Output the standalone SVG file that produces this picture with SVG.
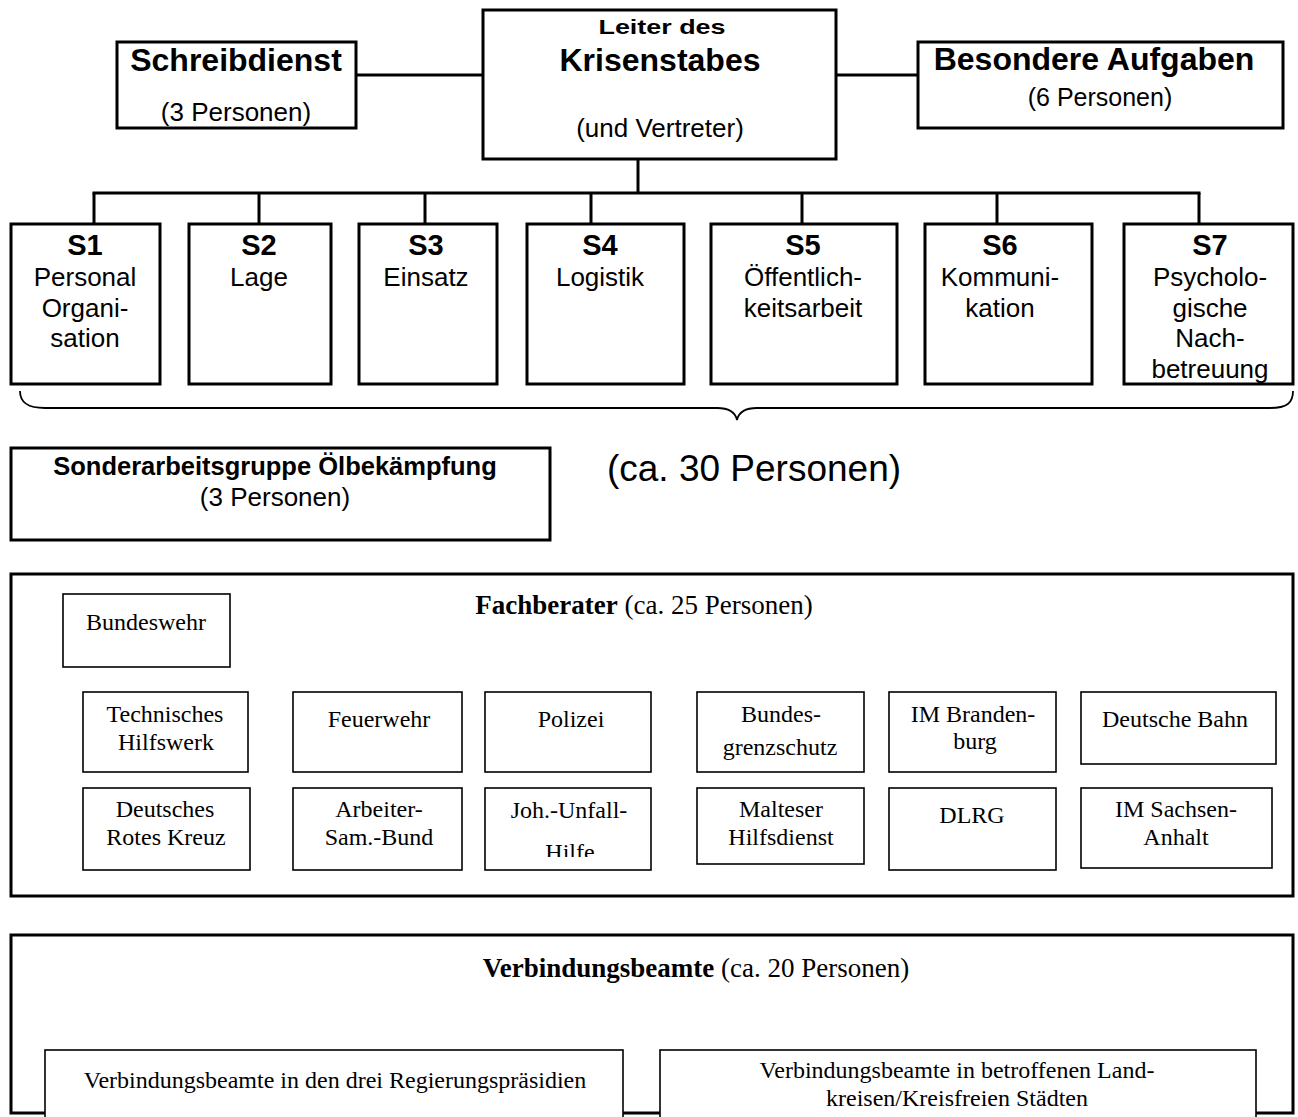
<svg xmlns="http://www.w3.org/2000/svg" width="1298" height="1117" viewBox="0 0 1298 1117">
<defs>
<style>
.box{fill:#fff;stroke:#000;stroke-width:3}
.sbox{fill:#fff;stroke:#000;stroke-width:1.6}
.conn{fill:none;stroke:#000;stroke-width:3}
.brace{fill:none;stroke:#000;stroke-width:1.8}
text{text-anchor:middle;fill:#000}
.sans{font-family:"Liberation Sans",Arial,sans-serif}
.serif{font-family:"Liberation Serif","Times New Roman",serif}
.b{font-weight:bold}
.t32{font-size:32px}
.t26{font-size:26px}
.t29{font-size:29px}
.s24{font-size:24px}
.s27{font-size:27px}
</style>
<clipPath id="clipJoh"><rect x="485" y="788" width="166" height="69"/></clipPath>
</defs>
<rect width="1298" height="1117" fill="#fff"/>

<g id="connectors">
<line class="conn" x1="356" y1="75" x2="483" y2="75"/>
<line class="conn" x1="836" y1="75" x2="918" y2="75"/>
<line class="conn" x1="638" y1="159" x2="638" y2="193"/>
<line class="conn" x1="92.5" y1="193" x2="1200.5" y2="193"/>
<line class="conn" x1="94" y1="193" x2="94" y2="224"/>
<line class="conn" x1="259" y1="193" x2="259" y2="224"/>
<line class="conn" x1="425" y1="193" x2="425" y2="224"/>
<line class="conn" x1="591" y1="193" x2="591" y2="224"/>
<line class="conn" x1="802" y1="193" x2="802" y2="224"/>
<line class="conn" x1="997" y1="193" x2="997" y2="224"/>
<line class="conn" x1="1199" y1="193" x2="1199" y2="224"/>
</g>

<g id="schreibdienst">
<rect class="box" x="117" y="42" width="239" height="86"/>
<text class="sans b t32" x="236" y="71">Schreibdienst</text>
<text class="sans t26" x="236" y="121">(3 Personen)</text>
</g>

<g id="leiter">
<rect class="box" x="483" y="10" width="353" height="149"/>
<text class="sans b" font-size="21" x="662" y="34" textLength="127" lengthAdjust="spacingAndGlyphs">Leiter des</text>
<text class="sans b t32" x="660" y="71">Krisenstabes</text>
<text class="sans t26" x="660" y="137">(und Vertreter)</text>
</g>

<g id="besondere">
<rect class="box" x="918" y="42" width="365" height="86"/>
<text class="sans b t32" x="1094" y="70">Besondere Aufgaben</text>
<text class="sans" font-size="25" x="1100" y="106">(6 Personen)</text>
</g>

<g id="s1">
<rect class="box" x="11" y="224" width="149" height="160"/>
<text class="sans b t29" x="85" y="255">S1</text>
<text class="sans t26" x="85" y="286">Personal</text>
<text class="sans t26" x="85" y="316.5">Organi-</text>
<text class="sans t26" x="85" y="347">sation</text>
</g>
<g id="s2">
<rect class="box" x="189" y="224" width="142" height="160"/>
<text class="sans b t29" x="259" y="255">S2</text>
<text class="sans t26" x="259" y="286">Lage</text>
</g>
<g id="s3">
<rect class="box" x="359" y="224" width="138" height="160"/>
<text class="sans b t29" x="426" y="255">S3</text>
<text class="sans t26" x="426" y="286">Einsatz</text>
</g>
<g id="s4">
<rect class="box" x="527" y="224" width="157" height="160"/>
<text class="sans b t29" x="600" y="255">S4</text>
<text class="sans t26" x="600" y="286">Logistik</text>
</g>
<g id="s5">
<rect class="box" x="711" y="224" width="186" height="160"/>
<text class="sans b t29" x="803" y="255">S5</text>
<text class="sans t26" x="803" y="286">Öffentlich-</text>
<text class="sans t26" x="803" y="316.5">keitsarbeit</text>
</g>
<g id="s6">
<rect class="box" x="925" y="224" width="167" height="160"/>
<text class="sans b t29" x="1000" y="255">S6</text>
<text class="sans t26" x="1000" y="286">Kommuni-</text>
<text class="sans t26" x="1000" y="316.5">kation</text>
</g>
<g id="s7">
<rect class="box" x="1124" y="224" width="169" height="160"/>
<text class="sans b t29" x="1210" y="255">S7</text>
<text class="sans t26" x="1210" y="286">Psycholo-</text>
<text class="sans t26" x="1210" y="316.5">gische</text>
<text class="sans t26" x="1210" y="347">Nach-</text>
<text class="sans t26" x="1210" y="377.5">betreuung</text>
</g>

<g id="brace">
<path class="brace" d="M20 391 C20 403 28 408 45 408 L717 408 C728 408 735 411 737 420 C739 411 746 408 757 408 L1270 408 C1287 408 1293 403 1293 391"/>
<text class="sans" font-size="37" x="754" y="481">(ca. 30 Personen)</text>
</g>

<g id="sonderarbeitsgruppe">
<rect class="box" x="11" y="448" width="539" height="92"/>
<text class="sans b" font-size="25.5" x="275" y="475">Sonderarbeitsgruppe Ölbekämpfung</text>
<text class="sans t26" x="275" y="506">(3 Personen)</text>
</g>

<g id="fachberater">
<rect class="box" x="11" y="574" width="1282" height="322"/>
<text class="serif s27" x="644" y="614"><tspan font-weight="bold">Fachberater</tspan> (ca. 25 Personen)</text>
</g>
<g id="bundeswehr">
<rect class="sbox" x="63" y="594" width="167" height="73"/>
<text class="serif s24" x="146" y="630">Bundeswehr</text>
</g>
<g id="thw">
<rect class="sbox" x="83" y="692" width="165" height="80"/>
<text class="serif s24" x="165" y="722">Technisches</text>
<text class="serif s24" x="166" y="750">Hilfswerk</text>
</g>
<g id="feuerwehr">
<rect class="sbox" x="293" y="692" width="169" height="80"/>
<text class="serif s24" x="379" y="727">Feuerwehr</text>
</g>
<g id="polizei">
<rect class="sbox" x="485" y="692" width="166" height="80"/>
<text class="serif s24" x="571" y="727">Polizei</text>
</g>
<g id="bgs">
<rect class="sbox" x="697" y="692" width="167" height="80"/>
<text class="serif s24" x="781" y="722">Bundes-</text>
<text class="serif s24" x="780" y="755">grenzschutz</text>
</g>
<g id="im-brandenburg">
<rect class="sbox" x="889" y="692" width="167" height="80"/>
<text class="serif s24" x="973" y="722">IM Branden-</text>
<text class="serif s24" x="975" y="749">burg</text>
</g>
<g id="deutsche-bahn">
<rect class="sbox" x="1081" y="692" width="195" height="72"/>
<text class="serif s24" x="1175" y="727">Deutsche Bahn</text>
</g>
<g id="drk">
<rect class="sbox" x="83" y="788" width="167" height="82"/>
<text class="serif s24" x="165" y="817">Deutsches</text>
<text class="serif s24" x="166" y="845">Rotes Kreuz</text>
</g>
<g id="asb">
<rect class="sbox" x="293" y="788" width="169" height="82"/>
<text class="serif s24" x="379" y="817">Arbeiter-</text>
<text class="serif s24" x="379" y="845">Sam.-Bund</text>
</g>
<g id="juh">
<rect class="sbox" x="485" y="788" width="166" height="82"/>
<text class="serif s24" x="569" y="818">Joh.-Unfall-</text>
<text class="serif s24" x="570" y="860" clip-path="url(#clipJoh)">Hilfe</text>
</g>
<g id="malteser">
<rect class="sbox" x="697" y="788" width="167" height="76"/>
<text class="serif s24" x="781" y="817">Malteser</text>
<text class="serif s24" x="781" y="845">Hilfsdienst</text>
</g>
<g id="dlrg">
<rect class="sbox" x="889" y="788" width="167" height="82"/>
<text class="serif s24" x="972" y="823">DLRG</text>
</g>
<g id="im-sachsen-anhalt">
<rect class="sbox" x="1081" y="788" width="191" height="80"/>
<text class="serif s24" x="1176" y="817">IM Sachsen-</text>
<text class="serif s24" x="1176" y="845">Anhalt</text>
</g>

<g id="verbindungsbeamte">
<rect class="box" x="11" y="935" width="1282" height="178"/>
<text class="serif s27" x="696" y="977"><tspan font-weight="bold">Verbindungsbeamte</tspan> (ca. 20 Personen)</text>
</g>
<g id="vb-regierungspraesidien">
<rect class="sbox" x="45" y="1050" width="578" height="100"/>
<text class="serif s24" x="335" y="1088">Verbindungsbeamte in den drei Regierungspräsidien</text>
</g>
<g id="vb-landkreise">
<rect class="sbox" x="660" y="1050" width="596" height="100"/>
<text class="serif s24" x="957" y="1078">Verbindungsbeamte in betroffenen Land-</text>
<text class="serif s24" x="957" y="1106">kreisen/Kreisfreien Städten</text>
</g>
</svg>
